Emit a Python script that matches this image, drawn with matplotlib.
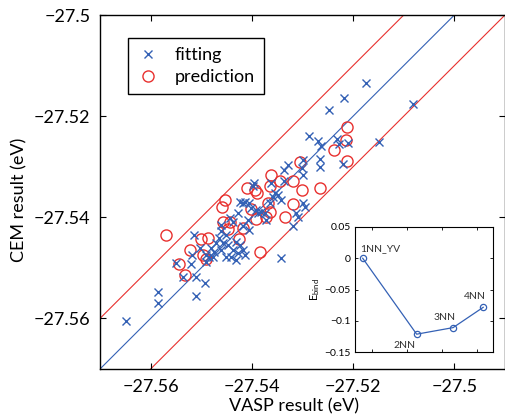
import numpy as np
import matplotlib
matplotlib.use("Agg")
import matplotlib.pyplot as plt

plt.rcParams['font.family'] = ['Lato', 'DejaVu Sans']
plt.rcParams['axes.unicode_minus'] = True

# fitting set (VASP, CEM)
fit_vasp = [-27.5649, -27.5586, -27.5586, -27.5510, -27.5493, -27.5511, -27.5521, -27.5549,
            -27.5514, -27.5343, -27.5174, -27.5218, -27.5248, -27.5082, -27.5148, -27.5287,
            -27.5318, -27.5308, -27.5270, -27.5264, -27.5232, -27.5228, -27.5211, -27.5265,
            -27.5265, -27.5220, -27.5299, -27.5301, -27.5299, -27.5329, -27.5336, -27.5362,
            -27.5336, -27.5355, -27.5359, -27.5365, -27.5299, -27.5296, -27.5312, -27.5372,
            -27.5395, -27.5398, -27.5349, -27.5414, -27.5405, -27.5401, -27.5381, -27.5375,
            -27.5424, -27.5418, -27.5391, -27.5444, -27.5438, -27.5418, -27.5460, -27.5451,
            -27.5464, -27.5470, -27.5457, -27.5447, -27.5431, -27.5424, -27.5480, -27.5474,
            -27.5460, -27.5438, -27.5428, -27.5418, -27.5451, -27.5431, -27.5484, -27.5490,
            -27.5388, -27.5408, -27.5428, -27.5460, -27.5405, -27.5414, -27.5477, -27.5490,
            -27.5342, -27.5441, -27.5503, -27.5518, -27.5537]
fit_cem = [-27.5606, -27.5547, -27.5570, -27.5555, -27.5529, -27.5518, -27.5493, -27.5491,
           -27.5435, -27.5480, -27.5135, -27.5165, -27.5188, -27.5176, -27.5252, -27.5239,
           -27.5417, -27.5399, -27.5250, -27.5259, -27.5245, -27.5255, -27.5254, -27.5285,
           -27.5300, -27.5294, -27.5287, -27.5302, -27.5316, -27.5296, -27.5306, -27.5333,
           -27.5329, -27.5352, -27.5359, -27.5372, -27.5372, -27.5379, -27.5392, -27.5405,
           -27.5333, -27.5339, -27.5356, -27.5369, -27.5372, -27.5382, -27.5389, -27.5391,
           -27.5369, -27.5372, -27.5385, -27.5402, -27.5409, -27.5418, -27.5428, -27.5435,
           -27.5441, -27.5451, -27.5451, -27.5455, -27.5448, -27.5455, -27.5461, -27.5468,
           -27.5464, -27.5464, -27.5471, -27.5464, -27.5478, -27.5484, -27.5478, -27.5488,
           -27.5391, -27.5405, -27.5391, -27.5415, -27.5425, -27.5474, -27.5478, -27.5474,
           -27.5366, -27.5478, -27.5461, -27.5474, -27.5518]

# prediction set (VASP, CEM)
pred_vasp = [-27.5569, -27.5543, -27.5533, -27.5522, -27.5501, -27.5487, -27.5497, -27.5490,
             -27.5459, -27.5454, -27.5457, -27.5443, -27.5447, -27.5425, -27.5418, -27.5410,
             -27.5402, -27.5393, -27.5389, -27.5391, -27.5383, -27.5372, -27.5369, -27.5365,
             -27.5362, -27.5364, -27.5345, -27.5335, -27.5319, -27.5319, -27.5304, -27.5301,
             -27.5266, -27.5238, -27.5213, -27.5215, -27.5213]
pred_cem = [-27.5436, -27.5493, -27.5514, -27.5465, -27.5442, -27.5441, -27.5474, -27.5482,
            -27.5379, -27.5366, -27.5409, -27.5409, -27.5423, -27.5442, -27.5422, -27.5342,
            -27.5384, -27.5346, -27.5351, -27.5403, -27.5469, -27.5399, -27.5372, -27.5389,
            -27.5316, -27.5338, -27.5329, -27.5400, -27.5329, -27.5374, -27.5291, -27.5347,
            -27.5342, -27.5266, -27.5221, -27.5247, -27.5289]

# reference lines y = x + offset
line_offsets = [0.0, 0.01, -0.01]

ticks_main = [-27.56, -27.54, -27.52, -27.5]
tick_labels = ['\u221227.56', '\u221227.54', '\u221227.52', '\u221227.5']

# inset: binding energy
inset_x = [2.37, 3.14, 3.66, 4.09]
inset_e = [0.0, -0.1215, -0.111, -0.0785]
inset_names = ['1NN_YV', '2NN', '3NN', '4NN']

blue = '#3461b5'
red = '#e8302e'

fig = plt.figure(figsize=(5.05, 4.18), dpi=100)
ax = fig.add_axes([100/505, 49/418, 405/505, 354/418])

for off in line_offsets:
    c = blue if off == 0 else red
    ax.axline((-27.55, -27.55 + off), slope=1, color=c, lw=0.8, zorder=1)

ax.plot(fit_vasp, fit_cem, 'x', color=blue, ms=5.5, mew=1.0, label='fitting', zorder=3)
ax.plot(pred_vasp, pred_cem, 'o', mfc='none', mec=red, ms=8, mew=1.0, label='prediction', zorder=2)

ax.set_xlim(-27.57, -27.49)
ax.set_ylim(-27.57, -27.5)
ax.set_xticks(ticks_main)
ax.set_xticklabels(tick_labels)
ax.set_yticks(ticks_main)
ax.set_yticklabels(tick_labels)
ax.tick_params(direction='in', top=True, right=True, length=4, width=0.8,
               labelsize=13, pad=7)
for s in ax.spines.values():
    s.set_linewidth(1.0)

ax.set_xlabel('VASP result (eV)', fontsize=13)
ax.set_ylabel('CEM result (eV)', fontsize=13)
ax.xaxis.set_label_coords((294 - 100) / 405, -0.083)
ax.yaxis.set_label_coords(-0.18, 0.477)

leg = ax.legend(loc='upper left', bbox_to_anchor=(0.069, 0.935), borderaxespad=0,
                fancybox=False, edgecolor='black', fontsize=13, handlelength=1.2,
                handletextpad=0.9, borderpad=0.5, labelspacing=0.35, framealpha=1)
leg.get_frame().set_linewidth(1.0)

# inset
ins = fig.add_axes([355/505, 66/418, 138/505, 125/418])
ins.plot(inset_x, inset_e, '-o', color=blue, mfc='none', mec=blue, ms=4.5, lw=0.9, mew=0.9)
ins.set_xlim(2.26, 4.23)
ins.set_ylim(-0.15, 0.05)
ins.set_xticks([2.5, 3.0, 3.5, 4.0])
ins.set_xticklabels([])
ins.set_yticks([0.05, 0, -0.05, -0.1, -0.15])
ins.set_yticklabels(['0.05', '0', '\u22120.05', '\u22120.1', '\u22120.15'])
ins.tick_params(direction='in', top=True, right=True, length=2.5, width=0.6,
                labelsize=7.5, pad=3)
for s in ins.spines.values():
    s.set_linewidth(0.8)
ins.set_ylabel('E$_\\mathregular{bind}$', fontsize=8, labelpad=2)

offsets = [(-3, 10, 'left'), (-12, -11, 'center'), (-9, 10, 'center'), (-8, 11, 'center')]
for x, e, name, (dx, dy, ha) in zip(inset_x, inset_e, inset_names, offsets):
    ins.annotate(name, (x, e), xytext=(dx, dy), textcoords='offset pixels',
                 ha=ha, va='center', fontsize=7.5, color='#333333')

fig.savefig('out.png', dpi=100)
